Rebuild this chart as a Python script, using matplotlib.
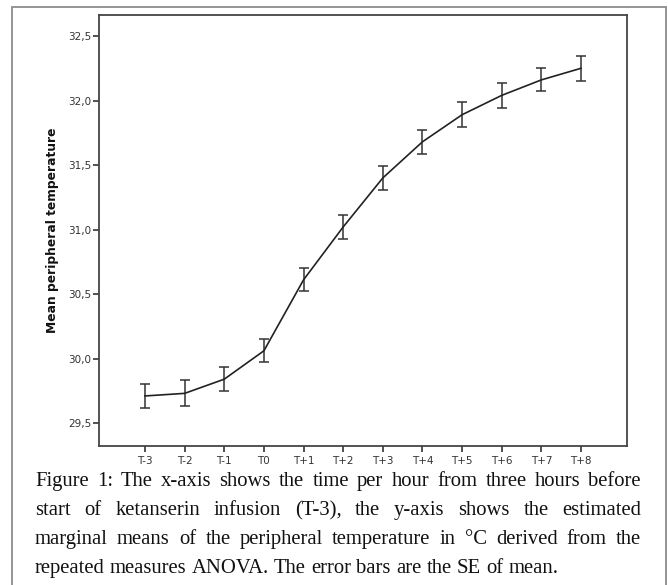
import matplotlib
matplotlib.use("Agg")
import matplotlib.pyplot as plt
from matplotlib.patches import Rectangle

# estimated marginal means (°C) and SE
labels = ["T-3", "T-2", "T-1", "T0", "T+1", "T+2", "T+3", "T+4", "T+5", "T+6", "T+7", "T+8"]
means = [29.71, 29.73, 29.84, 30.06, 30.61, 31.02, 31.40, 31.68, 31.89, 32.04, 32.16, 32.25]
se = [0.095, 0.10, 0.095, 0.09, 0.09, 0.095, 0.095, 0.095, 0.095, 0.095, 0.09, 0.095]
yticks = [29.5, 30.0, 30.5, 31.0, 31.5, 32.0, 32.5]

caption_lines = [
    "Figure 1: The x-axis shows the time per hour from three hours before",
    "start of ketanserin infusion (T-3), the y-axis shows the estimated",
    "marginal means of the peripheral temperature in °C derived from the",
    "repeated measures ANOVA. The error bars are the SE of mean.",
]

W, H = 668, 585
fig = plt.figure(figsize=(W / 100, H / 100), dpi=100)
fig.patch.set_facecolor("white")

# grey frame around the whole figure
fig.patches.append(Rectangle((12 / W, -0.01), (666 - 12) / W, 1 - 7 / H + 0.01,
                             transform=fig.transFigure, fill=False,
                             edgecolor="#8c8c8c", linewidth=1.3))

ax = fig.add_axes([99 / W, 1 - 446 / H, (627 - 99) / W, (446 - 15) / H])
x = list(range(len(labels)))
ax.plot(x, means, color="#222222", linewidth=1.2, zorder=3)
ax.errorbar(x, means, yerr=se, fmt="none", ecolor="#333333",
            elinewidth=1.1, capsize=3.6, capthick=1.1, zorder=2)

ax.set_xlim(-1.16, 12.16)
ax.set_ylim(29.322, 32.663)
ax.set_xticks(x)
ax.set_xticklabels(labels)
ax.set_yticks(yticks)
ax.set_yticklabels([f"{v:.1f}".replace(".", ",") for v in yticks])
ax.tick_params(axis="both", direction="out", colors="#333333", labelcolor="#333333",
               labelsize=7.5, width=1.2)
ax.tick_params(axis="y", length=4, pad=1.5)
ax.tick_params(axis="x", length=4.5, pad=3)
for s in ax.spines.values():
    s.set_color("#444444")
    s.set_linewidth(1.3)
ax.set_ylabel("Mean peripheral temperature", fontsize=8.8, fontweight="bold",
              color="#111111")
ax.yaxis.set_label_coords(-0.075, 0.5)

# justified caption in serif
renderer = fig.canvas.get_renderer()
x_left, x_right = 35, 641
baselines = [486, 515, 544, 573]
fs = 14.9
for i, line in enumerate(caption_lines):
    words = line.split(" ")
    texts = []
    widths = []
    for w in words:
        t = fig.text(0, 0, w, fontsize=fs, family="Liberation Serif", color="#111111",
                     va="baseline", ha="left")
        widths.append(t.get_window_extent(renderer).width)
        texts.append(t)
    if i == len(caption_lines) - 1:
        space = fs * 100 / 72 * 0.25
    else:
        space = (x_right - x_left - sum(widths)) / (len(words) - 1)
    cx = x_left
    for t, wd in zip(texts, widths):
        t.set_position((cx / W, 1 - baselines[i] / H))
        cx += wd + space

fig.savefig("out.png", dpi=100, facecolor="white")
